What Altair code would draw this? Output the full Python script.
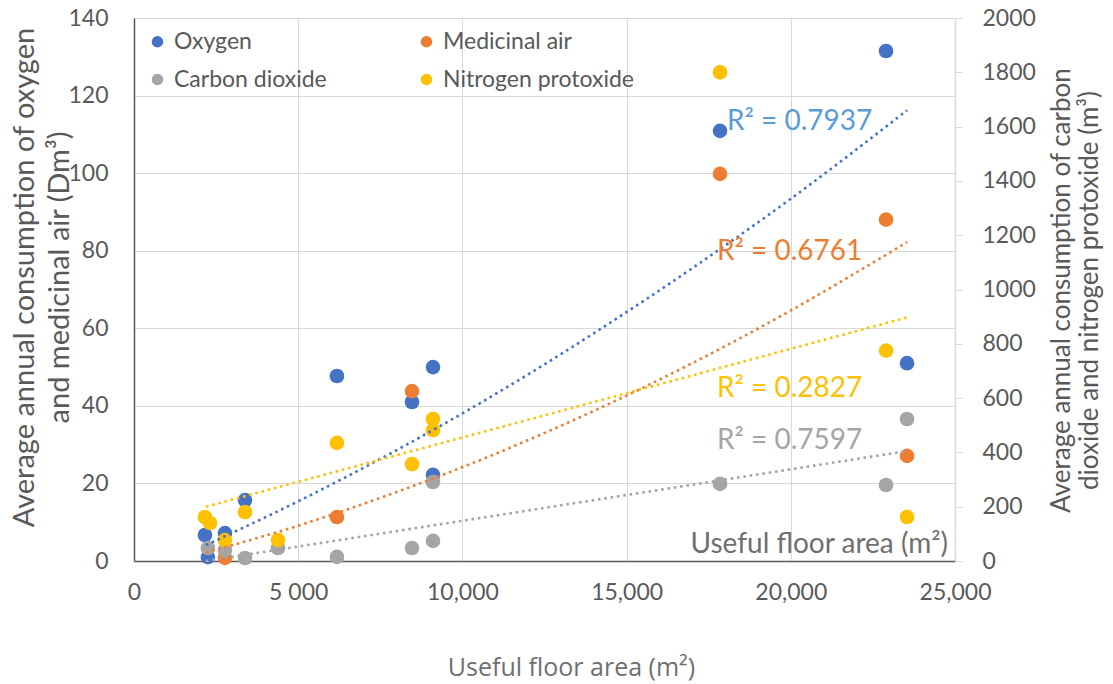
import altair as alt
import pandas as pd

# Gas series, legend order and colours
gases = ["Oxygen", "Medicinal air", "Carbon dioxide", "Nitrogen protoxide"]
gas_colors = ["#4472C4", "#ED7D31", "#A5A5A5", "#FFC000"]

# Useful floor area (m²) and average annual consumption per hospital
oxygen_area = [2160, 2250, 2770, 3380, 6180, 8465, 9105, 9105, 17845, 22900, 23540]
oxygen_dm3 = [6.7, 1.0, 7.2, 15.7, 47.7, 41.0, 50.0, 22.2, 110.9, 131.5, 51.0]

medair_area = [2770, 6180, 8465, 17845, 22900, 23540]
medair_dm3 = [0.8, 11.3, 43.8, 99.8, 88.0, 27.1]

co2_area = [2250, 2770, 3380, 4385, 6180, 8465, 9105, 9105, 17845, 22900, 23540]
co2_m3 = [48, 40, 11, 48, 15, 48, 74, 291, 284, 280, 523]

n2o_area = [2160, 2314, 2770, 3380, 4385, 6180, 8465, 9105, 9105, 17845, 22900, 23540]
n2o_m3 = [162, 140, 77, 180, 77, 435, 357, 523, 482, 1800, 775, 162]

# Trend lines (oxygen / medicinal air curve slightly upward)
trend_area = [2190, 5000, 8000, 11000, 14000, 17000, 20000, 23540]
oxygen_trend = [4.1, 15.4, 28.6, 43.0, 58.7, 75.5, 93.4, 116.2]
medair_trend = [2.2, 9.1, 17.8, 27.6, 38.7, 51.0, 64.6, 82.2]
trend_ends = [2190, 23540]
co2_trend = [0, 405]
n2o_trend = [200, 897]

r2_texts = ["R² = 0.7937", "R² = 0.6761", "R² = 0.2827", "R² = 0.7597"]
r2_colors = ["#5B9BD5", "#ED7D31", "#FFC000", "#A5A5A5"]

x_ticks = [0, 5000, 10000, 15000, 20000, 25000]
left_ticks = list(range(0, 141, 20))
right_ticks = list(range(0, 2001, 200))


def table(gas, xs, ys):
    return pd.DataFrame({"area": xs, "value": ys, "gas": gas})


left_pts = pd.concat([table("Oxygen", oxygen_area, oxygen_dm3),
                      table("Medicinal air", medair_area, medair_dm3)])
right_pts = pd.concat([table("Carbon dioxide", co2_area, co2_m3),
                       table("Nitrogen protoxide", n2o_area, n2o_m3)])
left_trend = pd.concat([table("Oxygen", trend_area, oxygen_trend),
                        table("Medicinal air", trend_area, medair_trend)])
right_trend = pd.concat([table("Carbon dioxide", trend_ends, co2_trend),
                         table("Nitrogen protoxide", trend_ends, n2o_trend)])

FONT = "Lato"
INK = "#595959"
GRID = "#D9D9D9"
W, H = 821, 543

x_axis = alt.Axis(
    values=x_ticks,
    labelExpr="datum.value == 5000 ? '5 000' : format(datum.value, ',')",
    grid=True, gridColor=GRID, ticks=False, labelFlush=False,
    domainColor=INK, domainWidth=1.5,
    labelFont=FONT, labelFontSize=23, labelColor=INK, labelPadding=20,
    title="Useful floor area (m²)", titleFont="Open Sans", titleFontSize=25,
    titleFontWeight="normal", titleColor="#6F6F6F",
    titleX=437, titleY=106, titleBaseline="middle", titleAlign="center",
)
x_enc = alt.X("area:Q", scale=alt.Scale(domain=[0, 25000], nice=False), axis=x_axis)

left_scale = alt.Scale(domain=[0, 140], nice=False)
right_scale = alt.Scale(domain=[0, 2000], nice=False)

legend = alt.Legend(
    orient="none", legendX=12, legendY=12, columns=2, direction="horizontal",
    title=None, labelLimit=400,
    symbolType="circle", symbolSize=135, symbolStrokeWidth=0, symbolOpacity=1,
    labelFont=FONT, labelFontSize=23, labelColor=INK, labelOffset=5,
    columnPadding=88, rowPadding=14, padding=0,
)
color_enc = alt.Color("gas:N", scale=alt.Scale(domain=gases, range=gas_colors), legend=legend)
stroke_enc = alt.Stroke("gas:N", scale=alt.Scale(domain=gases, range=gas_colors), legend=None)

left_points = alt.Chart(left_pts).mark_circle(size=215, opacity=1).encode(
    x=x_enc,
    y=alt.Y("value:Q", scale=left_scale, axis=alt.Axis(
        orient="left", values=left_ticks, grid=True, gridColor=GRID, ticks=False,
        domainColor=INK, domainWidth=1.5,
        labelFont=FONT, labelFontSize=23, labelColor=INK, labelPadding=26,
        title=["Average annual consumption of oxygen", "and medicinal air (Dm³)"],
        titleFont=FONT, titleFontSize=29, titleFontWeight="normal", titleColor=INK,
        titleLineHeight=35, titleAngle=270, titleX=-110, titleY=259,
        titleAlign="center", titleBaseline="middle")),
    color=color_enc,
)

right_points = alt.Chart(right_pts).mark_circle(size=215, opacity=1).encode(
    x=x_enc,
    y=alt.Y("value:Q", scale=right_scale, axis=alt.Axis(
        orient="right", values=right_ticks, format="d", grid=False, ticks=True,
        tickSize=7, tickColor=GRID, domainColor=GRID, domainWidth=1.5,
        labelFont=FONT, labelFontSize=23, labelColor=INK, labelPadding=20,
        title=["Average annual consumption of carbon", "dioxide and nitrogen protoxide (m³)"],
        titleFont=FONT, titleFontSize=26, titleFontWeight="normal", titleColor=INK,
        titleLineHeight=28, titleAngle=270, titleX=106, titleY=272,
        titleAlign="center", titleBaseline="middle")),
    color=color_enc,
)

dots = dict(strokeDash=[2.6, 3.8], strokeWidth=2.6)

left_lines = alt.Chart(left_trend).mark_line(interpolate="monotone", **dots).encode(
    x=x_enc,
    y=alt.Y("value:Q", scale=left_scale, axis=None),
    stroke=stroke_enc,
    detail="gas:N",
)
right_lines = alt.Chart(right_trend).mark_line(**dots).encode(
    x=x_enc,
    y=alt.Y("value:Q", scale=right_scale, axis=None),
    stroke=stroke_enc,
    detail="gas:N",
)

# In-plot annotations: R² of each trend line and the original axis caption
r2_pos = [(593, 104), (583, 234), (583, 371), (583, 423)]
notes = []
for txt, col, (px, py) in zip(r2_texts, r2_colors, r2_pos):
    notes.append(
        alt.Chart(pd.DataFrame({"t": [txt]})).mark_text(
            font=FONT, fontSize=28, color=col, align="left", baseline="middle"
        ).encode(text="t:N", x=alt.value(px), y=alt.value(py))
    )
notes.append(
    alt.Chart(pd.DataFrame({"t": ["Useful floor area (m²)"]})).mark_text(
        font=FONT, fontSize=28, color="#6F6F6F", align="right", baseline="middle"
    ).encode(text="t:N", x=alt.value(814), y=alt.value(527))
)

chart = alt.layer(
    left_points, right_points, left_lines, right_lines, *notes
).resolve_scale(y="independent").properties(
    width=W, height=H,
    autosize=alt.AutoSizeParams(type="none"),
    padding={"left": 134, "top": 18, "right": 158, "bottom": 123},
    background="white",
).configure_view(stroke=None)

chart.save("out.html", embed_options={"renderer": "svg", "actions": False})
